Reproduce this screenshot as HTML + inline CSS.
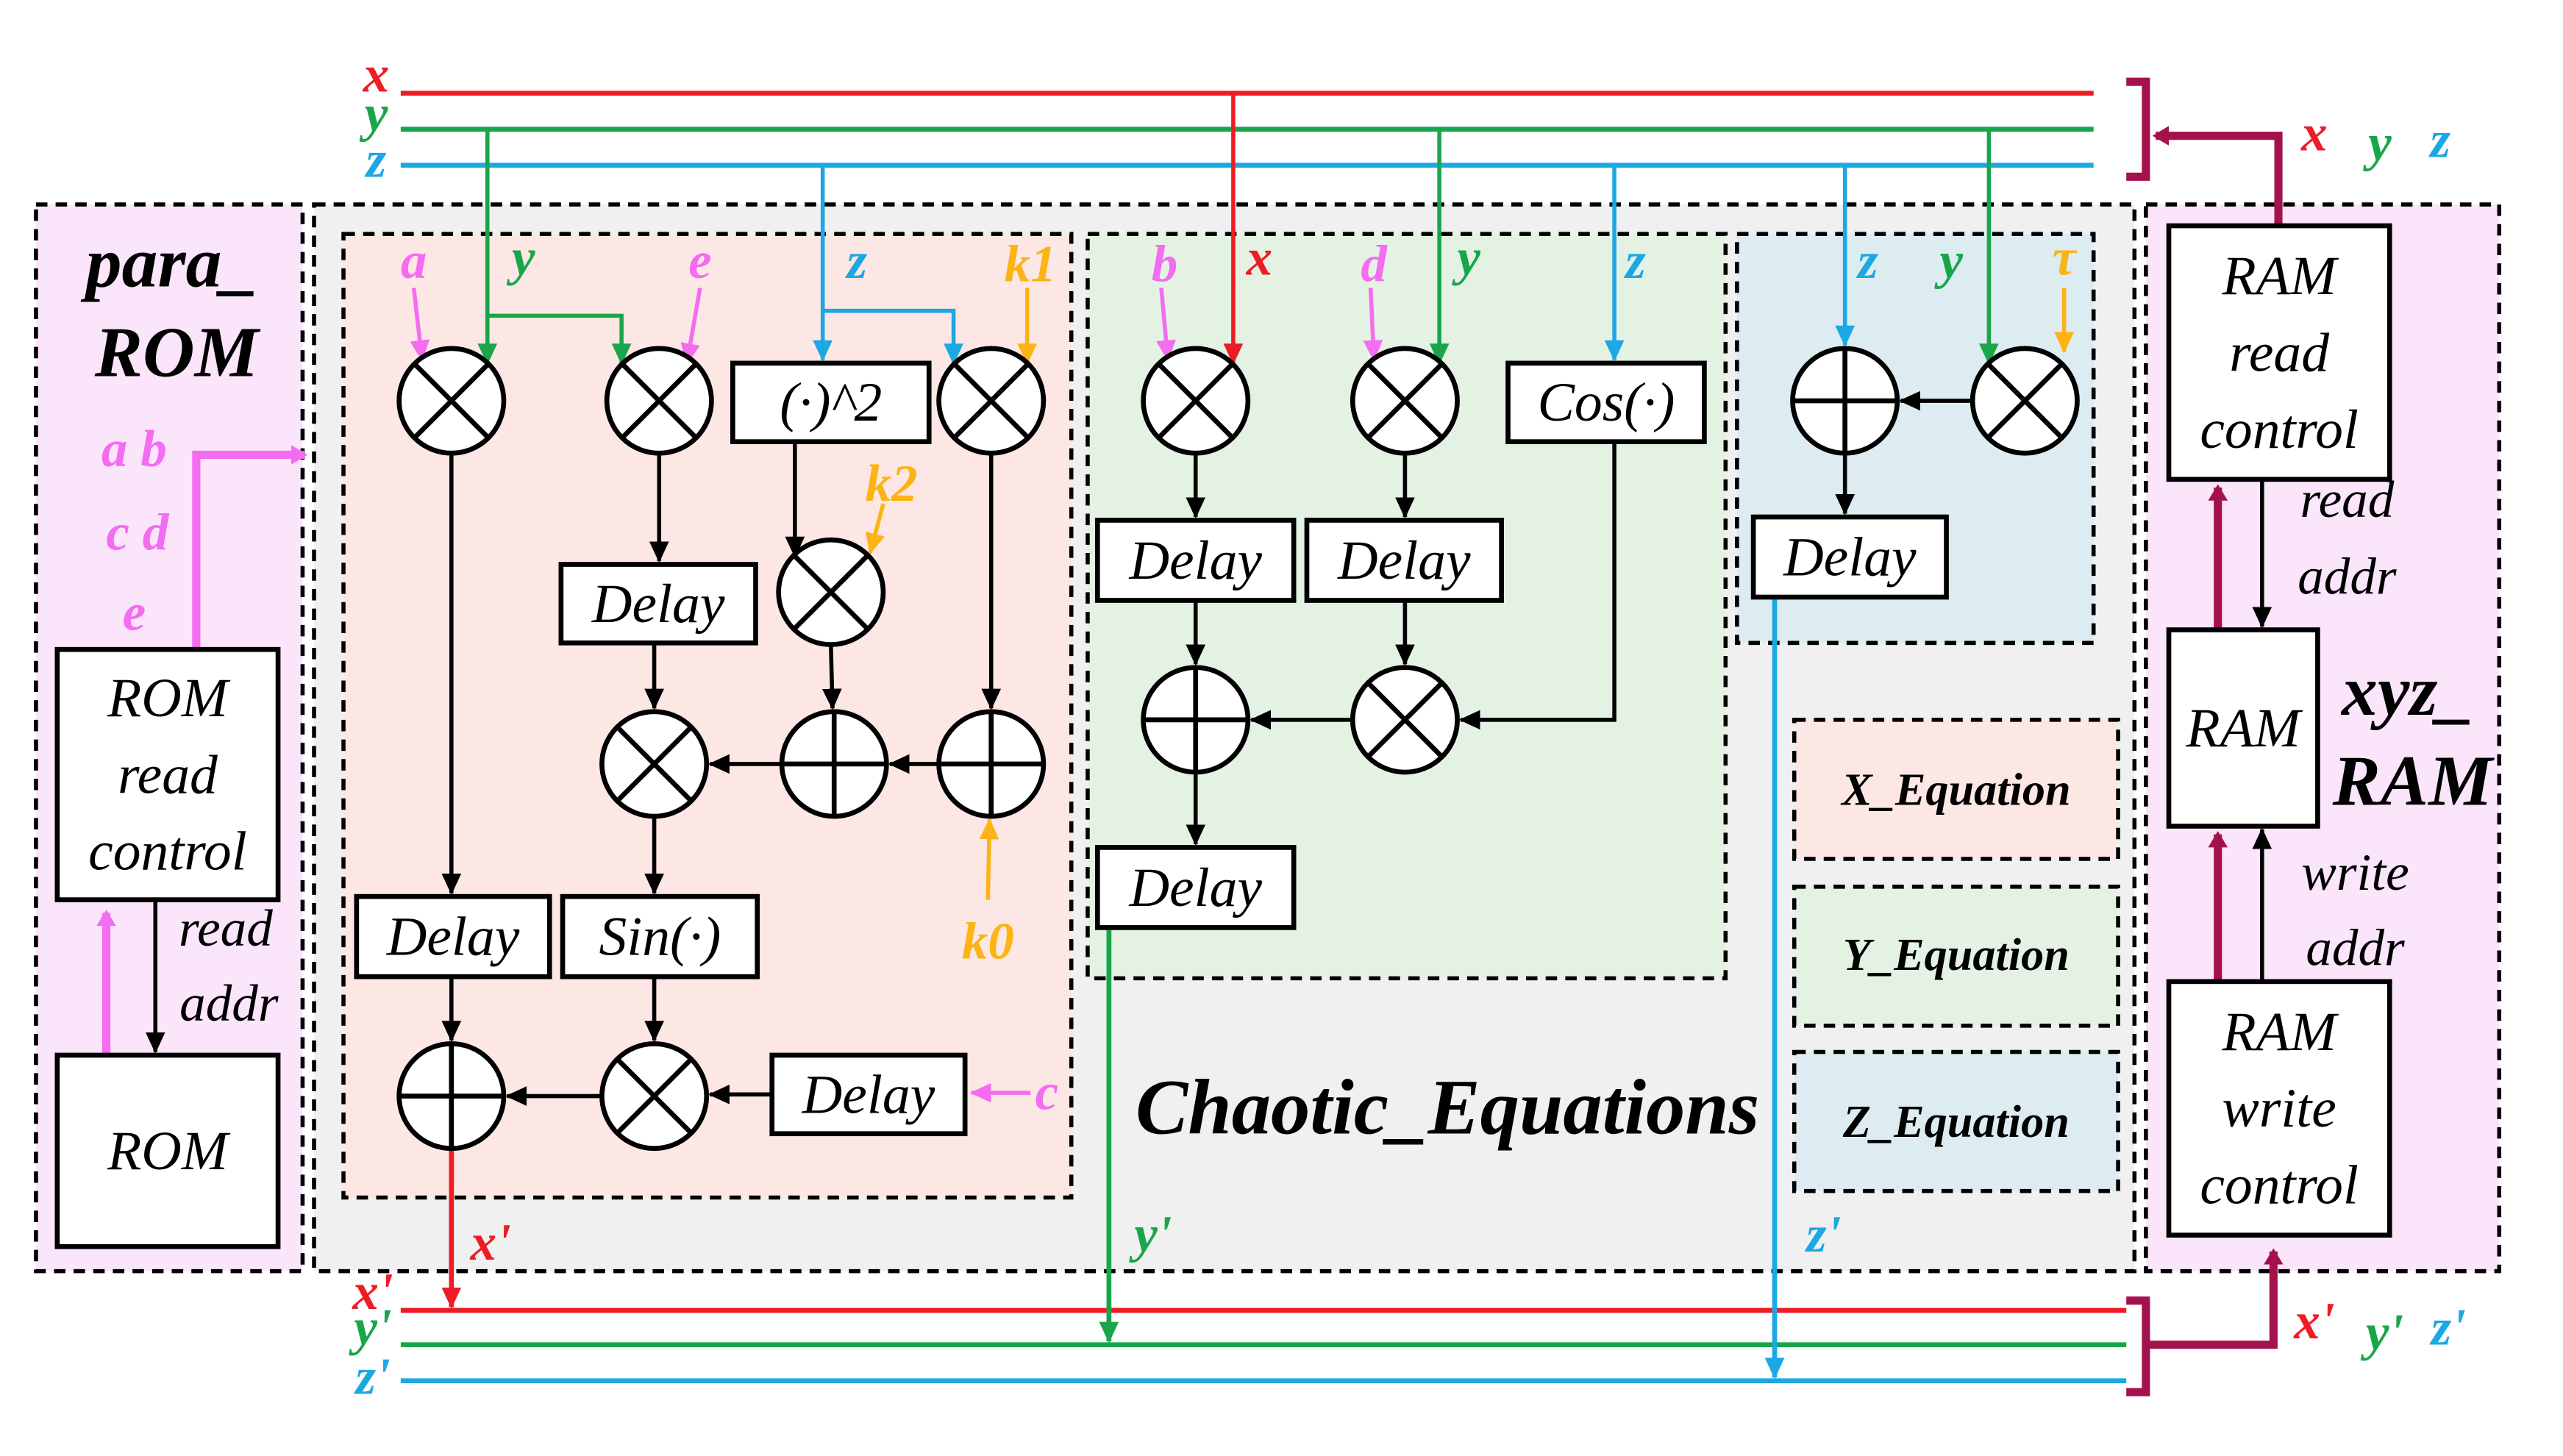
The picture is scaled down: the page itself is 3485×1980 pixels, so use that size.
<!DOCTYPE html>
<html><head><meta charset="utf-8">
<style>
html,body{margin:0;padding:0;background:#fff;}
svg{display:block;}
text{font-family:"Liberation Serif",serif;font-style:italic;}
</style></head>
<body>
<svg id="s" width="3485" height="1980" viewBox="0 0 1567 890" preserveAspectRatio="none" xmlns="http://www.w3.org/2000/svg">
<defs>
<marker id="m-k" markerWidth="14" markerHeight="14" refX="12" refY="7" orient="auto" markerUnits="userSpaceOnUse"><path d="M0,1 L13,7 L0,13 Z" fill="#000"/></marker>
<marker id="m-r" markerWidth="14" markerHeight="14" refX="12" refY="7" orient="auto" markerUnits="userSpaceOnUse"><path d="M0,1 L13,7 L0,13 Z" fill="#ee1c25"/></marker>
<marker id="m-g" markerWidth="14" markerHeight="14" refX="12" refY="7" orient="auto" markerUnits="userSpaceOnUse"><path d="M0,1 L13,7 L0,13 Z" fill="#19a64b"/></marker>
<marker id="m-b" markerWidth="14" markerHeight="14" refX="12" refY="7" orient="auto" markerUnits="userSpaceOnUse"><path d="M0,1 L13,7 L0,13 Z" fill="#1ca8e3"/></marker>
<marker id="m-p" markerWidth="14" markerHeight="14" refX="12" refY="7" orient="auto" markerUnits="userSpaceOnUse"><path d="M0,1 L13,7 L0,13 Z" fill="#f46cf0"/></marker>
<marker id="m-o" markerWidth="14" markerHeight="14" refX="12" refY="7" orient="auto" markerUnits="userSpaceOnUse"><path d="M0,1 L13,7 L0,13 Z" fill="#fbb316"/></marker>
<marker id="m-d" markerWidth="12" markerHeight="12" refX="8" refY="6" orient="auto" markerUnits="userSpaceOnUse"><path d="M0,0 L10,6 L0,12 Z" fill="#a3124c"/></marker>
<marker id="m-P" markerWidth="12" markerHeight="12" refX="8" refY="6" orient="auto" markerUnits="userSpaceOnUse"><path d="M0,0 L10,6 L0,12 Z" fill="#f46cf0"/></marker>
</defs>
<g id="bg"></g>
<g id="fg"></g>
</svg>
<script>
const NS='http://www.w3.org/2000/svg';
const bg=document.getElementById('bg'), fg=document.getElementById('fg');
const C={k:'#000',r:'#ee1c25',g:'#19a64b',b:'#1ca8e3',p:'#f46cf0',o:'#fbb316',d:'#a3124c'};
function mk(tag,attrs,parent){const e=document.createElementNS(NS,tag);for(const k in attrs)e.setAttribute(k,attrs[k]);(parent||fg).appendChild(e);return e;}
function panel(x,y,w,h,fill,name){
  const e=mk('rect',{x:x,y:y,width:w,height:h,fill:fill,stroke:'#000','stroke-width':2.5,'stroke-dasharray':'7,5'},bg);
  
  
}
function ln(pts,col,arrow,w,name,mkid){
  const e=mk('polyline',{points:pts,fill:'none',stroke:C[col],'stroke-width':w||2.5});
  if(arrow)e.setAttribute('marker-end','url(#'+(mkid||('m-'+col))+')');
  
  
}
function tx(x,y,s,col,size,bold,name,anchor){
  const e=mk('text',{x:x,y:y,fill:C[col]||col,'font-size':size,'font-weight':bold?'bold':'normal','text-anchor':anchor||'middle'});
  e.textContent=s;
  
  
}
function op(cx,cy,type,name){
  const g=mk('g',{});
  
  
  const r=32;
  mk('circle',{cx:cx,cy:cy,r:r,fill:'#fff',stroke:'#000','stroke-width':3},g);
  if(type==='x'){const d=r*0.707;
    mk('line',{x1:cx-d,y1:cy-d,x2:cx+d,y2:cy+d,stroke:'#000','stroke-width':3},g);
    mk('line',{x1:cx-d,y1:cy+d,x2:cx+d,y2:cy-d,stroke:'#000','stroke-width':3},g);
  }else{
    mk('line',{x1:cx-r,y1:cy,x2:cx+r,y2:cy,stroke:'#000','stroke-width':3},g);
    mk('line',{x1:cx,y1:cy-r,x2:cx,y2:cy+r,stroke:'#000','stroke-width':3},g);
  }
}
function box(x,y,w,h,lines,name,size){
  const g=mk('g',{});
  
  
  mk('rect',{x:x,y:y,width:w,height:h,fill:'#fff',stroke:'#000','stroke-width':3},g);
  const fs=size||34, n=lines.length, lh=fs*1.38;
  lines.forEach((s,i)=>{const t=mk('text',{x:x+w/2,y:y+h/2+(i-(n-1)/2)*lh+fs*0.33,'font-size':fs,'text-anchor':'middle',fill:'#000'},g);t.textContent=s;});
}
// panels
panel(22,125,163,652,'#fbe5fb','para-rom-panel');
panel(192,125,1113,652,'#f0f0f0','chaotic-equations-panel');
panel(1312,125,216,652,'#fbe5fb','xyz-ram-panel');
panel(210,143,445,589,'#fde7e4','x-equation-panel');
panel(665,143,390,455,'#e4f2e4','y-equation-panel');
panel(1062,143,218,250,'#dcecf1','z-equation-panel');
panel(1097,440,198,85,'#fde7e4','legend-x-equation');
panel(1097,542,198,85,'#e4f2e4','legend-y-equation');
panel(1097,643,198,85,'#dcecf1','legend-z-equation');
tx(1196,492,'X_Equation','#000',28,true,'legend-x-label');
tx(1196,593,'Y_Equation','#000',28,true,'legend-y-label');
tx(1196,695,'Z_Equation','#000',28,true,'legend-z-label');
// buses
ln('245,57 1280,57','r',false,3,'bus-x');
ln('245,79 1280,79','g',false,3,'bus-y');
ln('245,101 1280,101','b',false,3,'bus-z');
tx(230,56,'x','r',32,true,'bus-x-label');
tx(230,80,'y','g',32,true,'bus-y-label');
tx(230,108,'z','b',32,true,'bus-z-label');
ln('245,801 1300,801','r',false,3,'bus-x-prime');
ln('245,822 1300,822','g',false,3,'bus-y-prime');
ln('245,844 1300,844','b',false,3,'bus-z-prime');
tx(228,800,"x'",'r',32,true,'bus-xp-label');
tx(228,822,"y'",'g',32,true,'bus-yp-label');
tx(228,852,"z'",'b',32,true,'bus-zp-label');
// brackets
ln('1300,50 1312,50 1312,108 1300,108','d',false,5,'top-bracket');
ln('1393,138 1393,83 1318,83','d',true,5,'ram-to-bus-arrow','m-d');
tx(1415,92,'x','r',32,true,'ram-x-label');tx(1455,98,'y','g',32,true,'ram-y-label');tx(1492,96,'z','b',32,true,'ram-z-label');
ln('1300,795 1312,795 1312,851 1300,851','d',false,5,'bottom-bracket');
ln('1312,822 1390,822 1390,765','d',true,5,'bus-to-ram-arrow','m-d');
tx(1415,818,"x'",'r',32,true,'ram-xp-label');tx(1458,825,"y'",'g',32,true,'ram-yp-label');tx(1497,822,"z'",'b',32,true,'ram-zp-label');
// X equation wiring
ln('253,176 258,220','p',true,2.5,'a-in');tx(253,170,'a','p',32,true,'a-label');
ln('298,79 298,222','g',true,2.5,'y-to-mult1');
ln('298,193 380,193 380,222','g',true,2.5,'y-to-mult2');tx(320,168,'y','g',32,true,'y-label-x');
ln('428,176 420,222','p',true,2.5,'e-in');tx(428,170,'e','p',32,true,'e-label');
ln('503,101 503,220','b',true,2.5,'z-to-square');
ln('503,190 583,190 583,222','b',true,2.5,'z-to-mult');tx(524,170,'z','b',32,true,'z-label-x');
ln('628,176 628,222','o',true,2.5,'k1-in');tx(630,172,'k1','o',32,true,'k1-label');
ln('276,277 276,546','k',true,2.5,'m1-to-delay');
ln('403,277 403,343','k',true,2.5,'m2-to-delay');
ln('486,270 486,340','k',true,2.5,'square-to-mult');
ln('540,308 532,338','o',true,2.5,'k2-in');tx(545,306,'k2','o',32,true,'k2-label');
ln('508,394 509,433','k',true,2.5,'mk2-to-add');
ln('606,277 606,433','k',true,2.5,'mk1-to-add');
ln('604,550 605,501','o',true,2.5,'k0-in');tx(604,586,'k0','o',32,true,'k0-label');
ln('574,467 544,467','k',true,2.5,'add-to-add');
ln('478,467 434,467','k',true,2.5,'add-to-mult');
ln('400,393 400,433','k',true,2.5,'delay-to-mult');
ln('400,499 400,546','k',true,2.5,'mult-to-sin');
ln('400,597 400,636','k',true,2.5,'sin-to-mult');
ln('276,597 276,636','k',true,2.5,'delay-to-add');
ln('368,670 310,670','k',true,2.5,'mult-to-addout');
ln('472,669 434,669','k',true,2.5,'delayc-to-mult');
ln('630,668 594,668','p',true,2.5,'c-in');tx(640,678,'c','p',32,true,'c-label');
ln('276,702 276,799','r',true,3,'x-prime-out');tx(300,770,"x'",'r',32,true,'x-prime-label');
op(276,245,'x','mult-a-y');op(403,245,'x','mult-e-y');op(606,245,'x','mult-k1-z');
op(508,362,'x','mult-k2');op(400,467,'x','mult-mid');op(400,670,'x','mult-c');
op(510,467,'+','add-mid');op(606,467,'+','add-k0');op(276,670,'+','add-x-out');
box(448,222,120,48,['(·)^2'],'square-box');
box(343,345,119,48,['Delay'],'delay-x1');
box(218,548,118,49,['Delay'],'delay-x2');
box(344,548,119,49,['Sin(·)'],'sin-box');
box(472,645,118,48,['Delay'],'delay-x3');
// Y equation
ln('710,176 714,220','p',true,2.5,'b-in');tx(712,172,'b','p',32,true,'b-label');
ln('754,57 754,222','r',true,2.5,'x-to-mult');tx(770,168,'x','r',32,true,'x-label-y');
ln('838,176 840,220','p',true,2.5,'d-in');tx(840,172,'d','p',32,true,'d-label');
ln('880,79 880,222','g',true,2.5,'y-to-mult-y');tx(898,168,'y','g',32,true,'y-label-y');
ln('987,101 987,220','b',true,2.5,'z-to-cos');tx(1000,170,'z','b',32,true,'z-label-y');
ln('731,277 731,316','k',true,2.5,'my1-to-delay');
ln('859,277 859,316','k',true,2.5,'my2-to-delay');
ln('731,367 731,406','k',true,2.5,'delay-to-addy');
ln('859,367 859,406','k',true,2.5,'delay-to-multy');
ln('987,270 987,440 893,440','k',true,2.5,'cos-to-mult');
ln('827,440 765,440','k',true,2.5,'multy-to-addy');
ln('731,472 731,516','k',true,2.5,'addy-to-delay');
ln('678,567 678,820','g',true,3,'y-prime-out');tx(705,765,"y'",'g',32,true,'y-prime-label');
op(731,245,'x','mult-b-x');op(859,245,'x','mult-d-y');op(859,440,'x','mult-cos');op(731,440,'+','add-y');
box(671,318,120,49,['Delay'],'delay-y1');
box(799,318,119,49,['Delay'],'delay-y2');
box(922,222,120,48,['Cos(·)'],'cos-box');
box(671,518,120,49,['Delay'],'delay-y3');
// Z equation
ln('1128,101 1128,211','b',true,2.5,'z-to-addz');tx(1142,170,'z','b',32,true,'z-label-z');
ln('1216,79 1216,222','g',true,2.5,'y-to-multz');tx(1193,170,'y','g',32,true,'y-label-z');
ln('1262,176 1262,215','o',true,2.5,'tau-in');tx(1262,168,'τ','o',32,true,'tau-label');
ln('1206,245 1162,245','k',true,2.5,'multz-to-addz');
ln('1128,277 1128,314','k',true,2.5,'addz-to-delay');
ln('1085,365 1085,842','b',true,3,'z-prime-out');tx(1115,765,"z'",'b',32,true,'z-prime-label');
op(1128,245,'+','add-z');op(1238,245,'x','mult-tau-y');
box(1072,316,118,49,['Delay'],'delay-z');
tx(885,693,'Chaotic_Equations','#000',48,true,'chaotic-equations-title');
// para ROM
tx(105,175,'para_','#000',44,true,'para-rom-title-1');
tx(108,230,'ROM','#000',44,true,'para-rom-title-2');
tx(82,285,'a b','p',32,true,'params-ab');tx(84,336,'c d','p',32,true,'params-cd');tx(82,385,'e','p',32,true,'params-e');
ln('120,397 120,278 186,278','p',true,5,'params-out','m-P');
ln('65,645 65,558','p',true,5,'rom-to-control','m-P');
ln('95,550 95,643','k',true,2.5,'read-addr-arrow');
tx(138,578,'read','#000',32,false,'rom-read-label');tx(140,624,'addr','#000',32,false,'rom-addr-label');
box(35,397,135,153,['ROM','read','control'],'rom-read-control');
box(35,645,135,117,['ROM'],'rom-box');
// xyz RAM
ln('1356,385 1356,298','d',true,5,'ram-to-readctrl','m-d');
ln('1356,600 1356,510','d',true,5,'writectrl-to-ram','m-d');
ln('1383,293 1383,383','k',true,2.5,'read-addr-ram');
ln('1383,600 1383,507','k',true,2.5,'write-addr-ram');
tx(1435,316,'read','#000',32,false,'ram-read-label');tx(1435,363,'addr','#000',32,false,'ram-raddr-label');
tx(1440,544,'write','#000',32,false,'ram-write-label');tx(1440,590,'addr','#000',32,false,'ram-waddr-label');
tx(1472,437,'xyz_','#000',44,true,'xyz-ram-title-1');tx(1475,492,'RAM','#000',44,true,'xyz-ram-title-2');
box(1326,138,135,155,['RAM','read','control'],'ram-read-control');
box(1326,385,91,120,['RAM'],'ram-box');
box(1326,600,135,155,['RAM','write','control'],'ram-write-control');
</script>
</body></html>
